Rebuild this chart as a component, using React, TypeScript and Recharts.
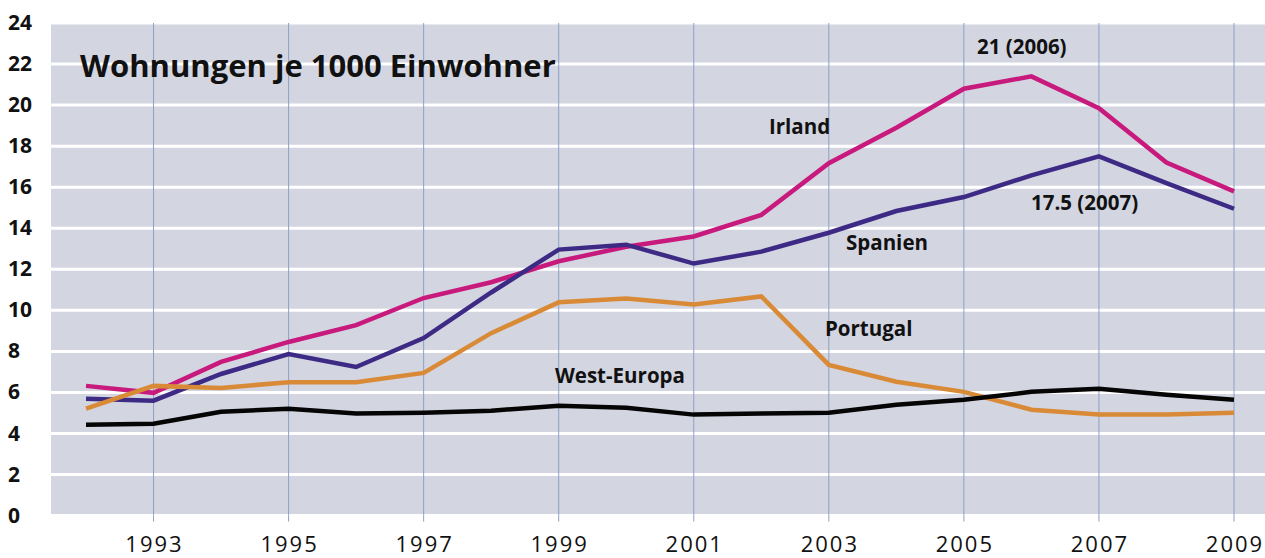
import React from "react";
import { LineChart, Line, XAxis, YAxis, CartesianGrid, ReferenceLine } from "recharts";

const years = [1992, 1993, 1994, 1995, 1996, 1997, 1998, 1999, 2000, 2001, 2002, 2003, 2004, 2005, 2006, 2007, 2008, 2009];
const irland = [6.32, 5.98, 7.49, 8.46, 9.28, 10.6, 11.37, 12.39, 13.1, 13.6, 14.65, 17.17, 18.9, 20.8, 21.4, 19.85, 17.2, 15.8];
const spanien = [5.69, 5.6, 6.9, 7.87, 7.24, 8.65, 10.87, 12.96, 13.2, 12.28, 12.86, 13.78, 14.84, 15.52, 16.58, 17.5, 16.2, 14.95];
const portugal = [5.21, 6.32, 6.22, 6.5, 6.5, 6.95, 8.89, 10.39, 10.58, 10.29, 10.68, 7.34, 6.52, 6.03, 5.16, 4.92, 4.92, 5.01];
const westEuropa = [4.43, 4.48, 5.06, 5.21, 4.97, 5.01, 5.11, 5.35, 5.25, 4.92, 4.97, 5.01, 5.4, 5.64, 6.03, 6.18, 5.89, 5.64];
const yTicks = [0, 2, 4, 6, 8, 10, 12, 14, 16, 18, 20, 22, 24];
const xTickYears = [1993, 1995, 1997, 1999, 2001, 2003, 2005, 2007, 2009];

const title = "Wohnungen je 1000 Einwohner";
const annotations = [
  { text: "21 (2006)", x: 977, y: 54 },
  { text: "Irland", x: 769, y: 134 },
  { text: "17.5 (2007)", x: 1031, y: 210 },
  { text: "Spanien", x: 846, y: 250 },
  { text: "Portugal", x: 825, y: 336 },
  { text: "West-Europa", x: 555, y: 383 },
];

const data = years.map((y, i) => ({
  year: y,
  irland: irland[i],
  spanien: spanien[i],
  portugal: portugal[i],
  west: westEuropa[i],
}));

const FONT = "'Open Sans', 'DejaVu Sans', sans-serif";

const YTick = (props: any) => {
  const { y, payload } = props;
  return (
    <text x={8} y={y} dy={7} textAnchor="start" fontFamily={FONT} fontWeight={700} fontSize={21} fill="#111">
      {payload.value}
    </text>
  );
};

const XTick = (props: any) => {
  const { x, y, payload } = props;
  if (!xTickYears.includes(payload.value)) return null;
  return (
    <g>
      <line x1={x} x2={x} y1={y} y2={y + 6} stroke="#8ea0c4" strokeWidth={1} />
      <text x={x + 1} y={y + 36} textAnchor="middle" fontFamily={FONT} fontSize={22} letterSpacing={2} fill="#111">
        {payload.value}
      </text>
    </g>
  );
};

export default function App() {
  return (
    <div style={{ position: "absolute", left: 0, top: 0, width: 1265, height: 558, background: "#fff" }}>
      <LineChart width={1265} height={558} data={data} margin={{ top: 23, right: 0, bottom: 0, left: 0 }}>
        <CartesianGrid vertical={false} stroke="#ffffff" strokeWidth={3} fill="#d3d5e1" fillOpacity={1} />
        <XAxis
          dataKey="year"
          interval={0}
          tick={<XTick />}
          tickLine={false}
          axisLine={false}
          tickSize={0}
          tickMargin={0}
          height={42.4}
          padding={{ left: 35, right: 31 }}
        />
        <YAxis
          domain={[0, 24]}
          ticks={yTicks}
          width={51}
          tick={<YTick />}
          tickLine={false}
          axisLine={false}
        />
        {xTickYears.map((yr) => (
          <ReferenceLine key={yr} x={yr} stroke="#8ea0c4" strokeWidth={1} />
        ))}
        <Line dataKey="irland" stroke="#c8197c" strokeWidth={4.5} dot={false} isAnimationActive={false} />
        <Line dataKey="spanien" stroke="#3d2a85" strokeWidth={4.5} dot={false} isAnimationActive={false} />
        <Line dataKey="portugal" stroke="#d98a36" strokeWidth={4.5} dot={false} isAnimationActive={false} />
        <Line dataKey="west" stroke="#050505" strokeWidth={4.5} dot={false} isAnimationActive={false} />
      </LineChart>
      <svg width={1265} height={558} style={{ position: "absolute", left: 0, top: 0, pointerEvents: "none" }}>
        <text x={80} y={77} fontFamily={FONT} fontWeight={700} fontSize={31} fill="#111">{title}</text>
        {annotations.map((a) => (
          <text key={a.text} x={a.x} y={a.y} fontFamily={FONT} fontWeight={700} fontSize={20.5} fill="#111">
            {a.text}
          </text>
        ))}
      </svg>
    </div>
  );
}
